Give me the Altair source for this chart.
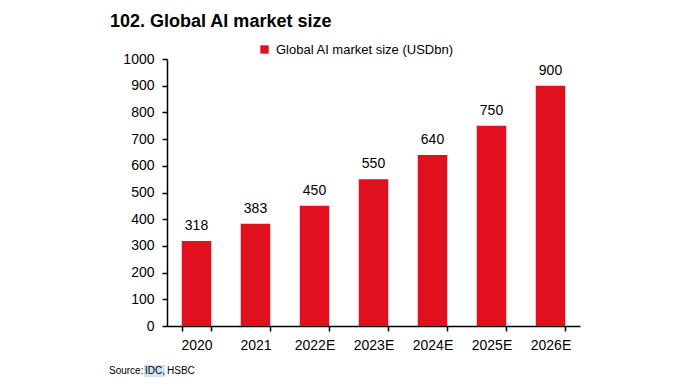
import altair as alt
import pandas as pd

years = ["2020", "2021", "2022E", "2023E", "2024E", "2025E", "2026E"]
values = [318, 383, 450, 550, 640, 750, 900]
series_name = "Global AI market size (USDbn)"
title_text = "102. Global AI market size"
source_parts = ["Source:", "IDC,", "HSBC"]

df = pd.DataFrame({"year": years, "value": values, "series": [series_name] * len(years)})

FONT = "Liberation Sans"
RED = "#E0101E"
FS = 14

x_enc = alt.X("year:N", sort=years, title=None,
              scale=alt.Scale(paddingInner=0.5, paddingOuter=0.25),
              axis=alt.Axis(labelAngle=0, tickBand="extent", labelPadding=7))
y_enc = alt.Y("value:Q", title=None,
              scale=alt.Scale(domain=[0, 1000], nice=False),
              axis=alt.Axis(values=list(range(0, 1001, 100)), grid=False, labelPadding=8,
                            format="d", labelOverlap=False))

base = alt.Chart(df)

bars = base.mark_bar(color=RED).encode(
    x=x_enc,
    y=y_enc,
    color=alt.Color("series:N", scale=alt.Scale(range=[RED]),
                    legend=alt.Legend(title=None, orient="none", legendX=91, legendY=-16,
                                      symbolType="square", symbolSize=70, symbolOffset=0,
                                      labelFont=FONT, labelFontSize=13, labelColor="#000",
                                      labelLimit=0, labelOffset=5)),
)

labels = base.mark_text(dy=-15, font=FONT, fontSize=FS, color="#000").encode(
    x=x_enc,
    y=y_enc,
    text=alt.Text("value:Q"),
)

one = base.transform_filter(alt.datum.year == "2020")

title = one.mark_text(align="left", baseline="alphabetic", font=FONT, fontSize=18,
                      fontWeight="bold", color="#000").encode(
    x=alt.value(-57), y=alt.value(-32), text=alt.value(title_text)
)

highlight = one.mark_rect(color="#cfe2f3").encode(
    x=alt.value(-23), x2=alt.value(-2), y=alt.value(306), y2=alt.value(318)
)

src1 = one.mark_text(align="left", baseline="middle", font=FONT, fontSize=10, color="#000").encode(
    x=alt.value(-58), y=alt.value(312), text=alt.value(source_parts[0])
)
src2 = one.mark_text(align="left", baseline="middle", font=FONT, fontSize=10, color="#000").encode(
    x=alt.value(-22), y=alt.value(312), text=alt.value(source_parts[1])
)
src3 = one.mark_text(align="left", baseline="middle", font=FONT, fontSize=10, color="#000").encode(
    x=alt.value(0), y=alt.value(312), text=alt.value(source_parts[2])
)

chart = alt.layer(bars, labels, title, highlight, src1, src2, src3).properties(
    width=413, height=267,
    padding={"left": 159, "top": 51, "right": 108, "bottom": 56},
    autosize=alt.AutoSizeParams(type="none"),
).configure_view(stroke=None).configure_axis(
    domainColor="#000", domainWidth=1.5, tickColor="#000", tickWidth=1.5, tickSize=5,
    labelFont=FONT, labelFontSize=FS, labelColor="#000"
)

chart.save("out.html", embed_options={"renderer": "svg", "actions": False})
